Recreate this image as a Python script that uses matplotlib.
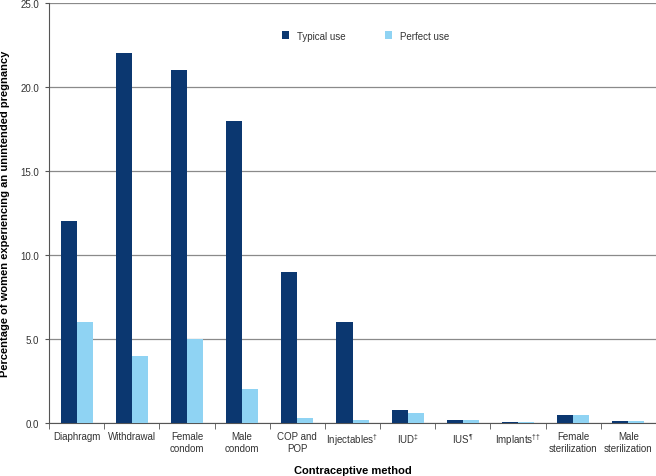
import numpy as np
import matplotlib
matplotlib.use('Agg')
import matplotlib.pyplot as plt

plt.rcParams['font.family'] = ['Liberation Sans', 'DejaVu Sans']
plt.rcParams['mathtext.fontset'] = 'custom'
plt.rcParams['mathtext.rm'] = 'Liberation Sans'

methods = ['Diaphragm', 'Withdrawal', 'Female\ncondom', 'Male\ncondom', 'COP and\nPOP',
           r'Injectables$^{\dagger}$', r'IUD$^{\ddagger}$', r'IUS$^{\P}$',
           r'Implants$^{\dagger\!\dagger}$', 'Female\nsterilization', 'Male\nsterilization']
typical_use = [12, 22, 21, 18, 9, 6, 0.8, 0.2, 0.05, 0.5, 0.15]
perfect_use = [6, 4, 5, 2, 0.3, 0.2, 0.6, 0.2, 0.05, 0.5, 0.1]

dark = '#0b3770'
light = '#8fd3f3'

fig = plt.figure(figsize=(6.56, 4.77), dpi=100)
ax = fig.add_axes([0.0747, 0.111, 0.9253, 0.8806])

x = np.arange(len(methods))
w = 0.29
ax.bar(x - w / 2, typical_use, w, color=dark, zorder=3, label='Typical use')
ax.bar(x + w / 2, perfect_use, w, color=light, zorder=3, label='Perfect use')

ax.set_xlim(-0.5, len(methods) - 0.5)
ax.set_ylim(0, 25)
ax.set_yticks(np.arange(0, 26, 5))
ax.set_yticklabels(['%.1f' % v for v in np.arange(0, 26, 5)], fontsize=7, color='#333333')
ax.yaxis.grid(True, color='#8a8a8a', linewidth=0.9, zorder=0)

ax.set_xticks(x)
ax.set_xticklabels(methods, fontsize=7, color='#333333')
ax.set_xticks(np.arange(-0.5, len(methods), 1), minor=True)
ax.tick_params(axis='x', which='major', length=0, pad=6)
ax.tick_params(axis='x', which='minor', length=4, direction='out', color='#555555')
ax.tick_params(axis='y', length=3, color='#555555', pad=4)

for s in ['top', 'right']:
    ax.spines[s].set_visible(False)
ax.spines['left'].set_color('#555555')
ax.spines['bottom'].set_color('#555555')

ax.set_xlabel('Contraceptive method', fontsize=8, fontweight='bold')
ax.xaxis.set_label_coords(0.5, -0.1)
ax.set_ylabel('Percentage of women experiencing an unintended pregnancy',
              fontsize=8, fontweight='bold')
ax.yaxis.set_label_coords(-0.064, 0.5)

leg = ax.legend(loc='upper left', bbox_to_anchor=(0.37, 0.955), ncol=2, frameon=False,
                fontsize=7, handlelength=0.7, handleheight=0.9, columnspacing=4.1,
                handletextpad=0.8)
for t in leg.get_texts():
    t.set_color('#333333')

fig.savefig('out.png', dpi=100)
